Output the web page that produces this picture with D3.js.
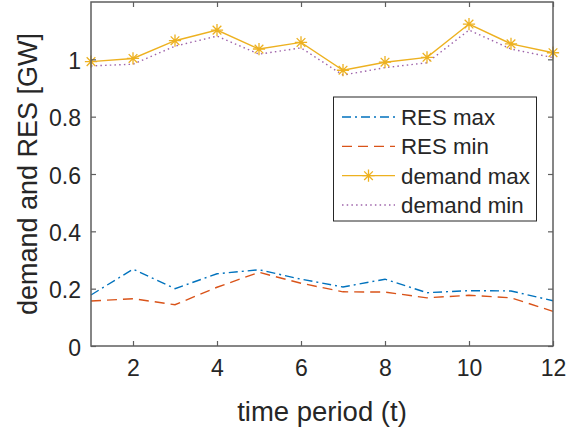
<!DOCTYPE html>
<html><head><meta charset="utf-8">
<script src="https://cdn.jsdelivr.net/npm/d3@7"></script>
<style>
html,body{margin:0;padding:0;background:#fff;}
svg text{font-family:"Liberation Sans",Arial,Helvetica,sans-serif;}
</style></head>
<body>
<svg id="chart" width="568" height="432"></svg>
<script>
const periods = [1,2,3,4,5,6,7,8,9,10,11,12];
const resMax = [0.178,0.268,0.200,0.252,0.266,0.233,0.206,0.233,0.186,0.193,0.192,0.158];
const resMin = [0.157,0.165,0.144,0.205,0.257,0.219,0.189,0.188,0.168,0.177,0.168,0.121];
const demandMax = [0.992,1.003,1.065,1.102,1.036,1.059,0.962,0.990,1.007,1.123,1.054,1.023];
const demandMin = [0.977,0.983,1.046,1.081,1.018,1.040,0.945,0.971,0.988,1.102,1.036,1.006];
const xTicks = [2,4,6,8,10,12];
const yTicks = [0,0.2,0.4,0.6,0.8,1];
const seriesNames = ["RES max","RES min","demand max","demand min"];

const svg = d3.select("#chart");
const L=91, R=553, T=2, B=346;
const x = d3.scaleLinear().domain([1,12]).range([L,R]);
const y = d3.scaleLinear().domain([0,1.2]).range([B,T]);
const axisColor = "#262626";
const frameColor = "#5e5e5e";

const series = [
  {name:seriesNames[0], values:resMax, color:"#0072BD", dash:"9,4,2,4", marker:false, op:1},
  {name:seriesNames[1], values:resMin, color:"#D95319", dash:"10,6", marker:false, op:1},
  {name:seriesNames[2], values:demandMax, color:"#EDB120", dash:null, marker:true, op:1},
  {name:seriesNames[3], values:demandMin, color:"#7E2F8E", dash:"1.5,3.2", marker:false, op:0.75}
];

const line = d3.line().x((d,i)=>x(periods[i])).y(d=>y(d));
const plot = svg.append("g");

const asterisk = {
  draw(ctx, size){
    const r = Math.sqrt(size)/2;
    const d = r*Math.SQRT1_2;
    ctx.moveTo(-r,0); ctx.lineTo(r,0);
    ctx.moveTo(0,-r); ctx.lineTo(0,r);
    ctx.moveTo(-d,-d); ctx.lineTo(d,d);
    ctx.moveTo(-d,d); ctx.lineTo(d,-d);
  }
};
const sym = d3.symbol().type(asterisk).size(150);

[series[0],series[1],series[3],series[2]].forEach(s=>{
  plot.append("path").datum(s.values)
    .attr("d",line).attr("fill","none").attr("stroke",s.color).attr("stroke-opacity",s.op)
    .attr("stroke-width",1.4).attr("stroke-dasharray",s.dash);
  if(s.marker){
    plot.selectAll(null).data(s.values).enter().append("path")
      .attr("d",sym).attr("transform",(d,i)=>`translate(${x(periods[i])},${y(d)})`)
      .attr("fill","none").attr("stroke",s.color).attr("stroke-width",1.3);
  }
});

const fsTick = 23;
const gx = svg.append("g").attr("transform",`translate(0,${B})`)
  .call(d3.axisBottom(x).tickValues(xTicks).tickSize(-5).tickPadding(14).tickFormat(d3.format("d")));
const gxTop = svg.append("g").attr("transform",`translate(0,${T})`)
  .call(d3.axisTop(x).tickValues(xTicks).tickSize(-5).tickFormat(""));
const gy = svg.append("g").attr("transform",`translate(${L},0)`)
  .call(d3.axisLeft(y).tickValues(yTicks).tickSize(-5).tickPadding(10).tickFormat(d=>d===0||d===1?d3.format("d")(d):d3.format(".1f")(d)));
const gyR = svg.append("g").attr("transform",`translate(${R},0)`)
  .call(d3.axisRight(y).tickValues(yTicks).tickSize(-5).tickFormat(""));
[gx,gxTop,gy,gyR].forEach(g=>{
  g.select(".domain").remove();
  g.selectAll(".tick line").attr("stroke",frameColor).attr("stroke-width",1.2);
  g.selectAll(".tick text").attr("fill",axisColor).attr("font-size",fsTick)
    .attr("font-family","'Liberation Sans',Arial,sans-serif");
});
gy.selectAll(".tick text").attr("dy","0.4em");
svg.append("rect").attr("x",L).attr("y",T).attr("width",R-L).attr("height",B-T)
  .attr("fill","none").attr("stroke",frameColor).attr("stroke-width",1.5);

svg.append("text").attr("x",(L+R)/2).attr("y",421).attr("text-anchor","middle")
  .attr("font-size",27.5).attr("fill",axisColor).text("time period (t)");
svg.append("text").attr("transform",`translate(37,${(T+B)/2}) rotate(-90)`).attr("text-anchor","middle")
  .attr("font-size",27).attr("fill",axisColor).text("demand and RES [GW]");

const lg = svg.append("g");
lg.append("rect").attr("x",333.5).attr("y",97).attr("width",203).attr("height",124)
  .attr("fill","#fff").attr("stroke","#262626").attr("stroke-width",1);
const rowY = d3.scalePoint().domain(seriesNames).range([117,205]);
series.forEach(s=>{
  const yy = rowY(s.name);
  lg.append("line").attr("x1",342).attr("x2",395).attr("y1",yy).attr("y2",yy)
    .attr("stroke",s.color).attr("stroke-opacity",s.op).attr("stroke-width",1.4).attr("stroke-dasharray",s.dash);
  if(s.marker){
    lg.append("path").attr("d",sym).attr("transform",`translate(368.5,${yy})`)
      .attr("fill","none").attr("stroke",s.color).attr("stroke-width",1.3);
  }
  lg.append("text").attr("x",401).attr("y",yy).attr("dy","0.36em")
    .attr("font-size",22.3).attr("fill",axisColor).text(s.name);
});
</script>
</body></html>
